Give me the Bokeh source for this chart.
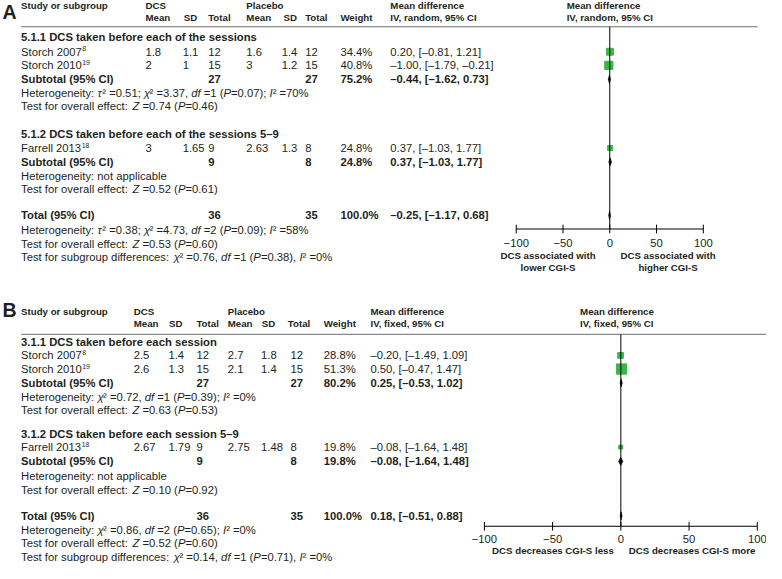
from bokeh.plotting import figure
from bokeh.models import Range1d, ColumnDataSource
from bokeh.core.properties import value
from bokeh.embed import file_html
from bokeh.resources import INLINE

# ------------------------------------------------------------------ data
studies = ["Storch 2007", "Storch 2010", "Farrell 2013"]
study_refs = ["8", "19", "18"]
study_group = [0, 0, 1]

# Panel A (random effects)
a_groups = ["5.1.1 DCS taken before each of the sessions",
            "5.1.2 DCS taken before each of the sessions 5\u20139"]
a_dcs_mean = [1.8, 2, 3]
a_dcs_sd = [1.1, 1, 1.65]
a_dcs_n = [12, 15, 9]
a_pla_mean = [1.6, 3, 2.63]
a_pla_sd = [1.4, 1.2, 1.3]
a_pla_n = [12, 15, 8]
a_weight = [34.4, 40.8, 24.8]
a_md = [0.20, -1.00, 0.37]
a_lo = [-0.81, -1.79, -1.03]
a_hi = [1.21, -0.21, 1.77]
a_sub_dcs_n = [27, 9]
a_sub_pla_n = [27, 8]
a_sub_weight = [75.2, 24.8]
a_sub_md = [-0.44, 0.37]
a_sub_lo = [-1.62, -1.03]
a_sub_hi = [0.73, 1.77]
a_tot = dict(dn=36, pn=35, w=100.0, md=-0.25, lo=-1.17, hi=0.68)
a_sub_het = ["Heterogeneity: *\u03c4*\u00b2 =0.51; *\u03c7*\u00b2 =3.37, *df* =1 (*P*=0.07); *I*\u00b2 =70%",
             "Heterogeneity: not applicable"]
a_sub_z = ["Test for overall effect: *Z* =0.74 (*P*=0.46)",
           "Test for overall effect: *Z* =0.52 (*P*=0.61)"]
a_tot_het = "Heterogeneity: *\u03c4*\u00b2 =0.38; *\u03c7*\u00b2 =4.73, *df* =2 (*P*=0.09); *I*\u00b2 =58%"
a_tot_z = "Test for overall effect: *Z* =0.53 (*P*=0.60)"
a_subgrp = "Test for subgroup differences: *\u03c7*\u00b2 =0.76, *df* =1 (*P*=0.38), *I*\u00b2 =0%"
a_ci_label = "IV, random, 95% CI"
a_axis_labels = [["DCS associated with", "lower CGI-S"], ["DCS associated with", "higher CGI-S"]]

# Panel B (fixed effects)
b_groups = ["3.1.1 DCS taken before each session",
            "3.1.2 DCS taken before each session 5\u20139"]
b_dcs_mean = [2.5, 2.6, 2.67]
b_dcs_sd = [1.4, 1.3, 1.79]
b_dcs_n = [12, 15, 9]
b_pla_mean = [2.7, 2.1, 2.75]
b_pla_sd = [1.8, 1.4, 1.48]
b_pla_n = [12, 15, 8]
b_weight = [28.8, 51.3, 19.8]
b_md = [-0.20, 0.50, -0.08]
b_lo = [-1.49, -0.47, -1.64]
b_hi = [1.09, 1.47, 1.48]
b_sub_dcs_n = [27, 9]
b_sub_pla_n = [27, 8]
b_sub_weight = [80.2, 19.8]
b_sub_md = [0.25, -0.08]
b_sub_lo = [-0.53, -1.64]
b_sub_hi = [1.02, 1.48]
b_tot = dict(dn=36, pn=35, w=100.0, md=0.18, lo=-0.51, hi=0.88)
b_sub_het = ["Heterogeneity: *\u03c7*\u00b2 =0.72, *df* =1 (*P*=0.39); *I*\u00b2 =0%",
             "Heterogeneity: not applicable"]
b_sub_z = ["Test for overall effect: *Z* =0.63 (*P*=0.53)",
           "Test for overall effect: *Z* =0.10 (*P*=0.92)"]
b_tot_het = "Heterogeneity: *\u03c7*\u00b2 =0.86, *df* =2 (*P*=0.65); *I*\u00b2 =0%"
b_tot_z = "Test for overall effect: *Z* =0.52 (*P*=0.60)"
b_subgrp = "Test for subgroup differences: *\u03c7*\u00b2 =0.14, *df* =1 (*P*=0.71), *I*\u00b2 =0%"
b_ci_label = "IV, fixed, 95% CI"
b_axis_labels = [["DCS decreases CGI-S less"], ["DCS decreases CGI-S more"]]

axis_ticks = [-100, -50, 0, 50, 100]
axis_tick_labels = ["\u2212100", "\u221250", "0", "50", "100"]

# ------------------------------------------------------------------ style / layout
W, H = 766, 563
XR = (0, 782)
YR = (579, 0)
K = W / (XR[1] - XR[0])
FONT = "Liberation Sans"
TXT = "#231f20"
GREEN = "#3ab54a"
BODY = 11.5
HEAD = 9.9
LETTER = 20

AW = {' ': 278, '\u00a0': 278, '(': 333, ')': 333, ',': 278, '-': 333, '.': 278, ':': 278,
      ';': 278, '=': 584, '%': 889, '[': 278, ']': 278, '\u2013': 556, '\u00b2': 333,
      '\u03c4': 430, '\u03c7': 500}
for c in '0123456789':
    AW[c] = 556
AW.update(dict(A=667, B=667, C=722, D=722, E=667, F=611, G=778, H=722, I=278, J=500, K=667,
               L=556, M=833, N=722, O=778, P=667, Q=778, R=722, S=667, T=611, U=722, V=667,
               W=944, X=667, Y=667, Z=611))
AW.update(dict(a=556, b=556, c=500, d=556, e=556, f=278, g=556, h=556, i=222, j=222, k=500,
               l=222, m=833, n=556, o=556, p=556, q=556, r=333, s=500, t=278, u=556, v=500,
               w=722, x=500, y=500, z=500))


def tw(s, size):
    return sum(AW.get(c, 556) for c in s) / 1000.0 * size


p = figure(width=W, height=H, x_range=Range1d(*XR), y_range=Range1d(*YR),
           output_backend="svg", toolbar_location=None, min_border=0,
           x_axis_type=None, y_axis_type=None)
p.grid.visible = False
p.outline_line_color = None
p.background_fill_color = "white"
p.border_fill_color = "white"

texts = {"left": dict(x=[], y=[], t=[], fs=[], st=[]),
         "center": dict(x=[], y=[], t=[], fs=[], st=[])}


def add(x, y, s, size, bold=False, italic=False, align="left"):
    d = texts[align]
    d["x"].append(x)
    d["y"].append(y)
    d["t"].append(s)
    d["fs"].append("%.2fpx" % (size * K))
    st = "bold" if bold else "normal"
    if italic:
        st = "bold italic" if bold else "italic"
    d["st"].append(st)


def rich(x, y, s, size):
    parts = s.split("*")
    for k, seg in enumerate(parts):
        if seg:
            # keep edge spaces (SVG would collapse them)
            shown = seg.replace(" ", "\u00a0")
            add(x, y, shown, size, italic=(k % 2 == 1))
        x += tw(seg, size)


def fmt(v):
    return str(v)


def fmd(v):
    return ("%.2f" % v).replace("-", "\u2013")


def fci(m, lo, hi):
    return "%s, [%s, %s]" % (fmd(m), fmd(lo), fmd(hi))


def panel(D, L, rname):
    add(L["letter"][0], L["letter"][1], L["name"], LETTER, bold=True)
    h1, h2 = L["hdr"]
    add(L["study"], h1, "Study or subgroup", HEAD, bold=True)
    add(L["h_dmean"], h1, "DCS", HEAD, bold=True)
    add(L["h_dmean"], h2, "Mean", HEAD, bold=True)
    add(L["h_dsd"], h2, "SD", HEAD, bold=True)
    add(L["h_dn"], h2, "Total", HEAD, bold=True)
    add(L["h_pmean"], h1, "Placebo", HEAD, bold=True)
    add(L["h_pmean"], h2, "Mean", HEAD, bold=True)
    add(L["h_psd"], h2, "SD", HEAD, bold=True)
    add(L["h_pn"], h2, "Total", HEAD, bold=True)
    add(L["w"], h2, "Weight", HEAD, bold=True)
    for xx in (L["ci"], L["fhead"]):
        add(xx, h1, "Mean difference", HEAD, bold=True)
        add(xx, h2, D["ci_label"], HEAD, bold=True)
    p.segment(x0=[L["line_x"][0]], x1=[L["line_x"][1]], y0=[L["line"]], y1=[L["line"]],
              line_color="#6d6e71", line_width=1)

    for g, gl in enumerate(D["groups"]):
        add(L["study"], L["group_y"][g], gl, BODY, bold=True)

    # studies
    for i, name in enumerate(studies):
        y = L["study_y"][i]
        add(L["study"], y, name, BODY)
        add(L["study"] + tw(name, BODY) + 0.5, y - 3, study_refs[i], BODY * 0.6)
        add(L["dmean"], y, fmt(D["dcs_mean"][i]), BODY)
        add(L["dsd"], y, fmt(D["dcs_sd"][i]), BODY)
        add(L["dn"], y, fmt(D["dcs_n"][i]), BODY)
        add(L["pmean"], y, fmt(D["pla_mean"][i]), BODY)
        add(L["psd"], y, fmt(D["pla_sd"][i]), BODY)
        add(L["pn"], y, fmt(D["pla_n"][i]), BODY)
        add(L["w"], y, "%.1f%%" % D["weight"][i], BODY)
        add(L["ci"], y, fci(D["md"][i], D["lo"][i], D["hi"][i]), BODY)

    ys = L["study_y"]
    p.segment(x0=D["lo"], x1=D["hi"], y0=ys, y1=ys, line_color="black", line_width=1,
              x_range_name=rname)
    p.scatter(x=D["md"], y=ys, size=[w * 0.2 for w in D["weight"]], marker="square",
              fill_color=GREEN, line_color=GREEN, x_range_name=rname)

    # subtotals
    dx, dy = [], []
    hd = 4.2
    for g in range(2):
        y = L["sub_y"][g]
        add(L["study"], y, "Subtotal (95% CI)", BODY, bold=True)
        add(L["dn"], y, fmt(D["sub_dcs_n"][g]), BODY, bold=True)
        add(L["pn"], y, fmt(D["sub_pla_n"][g]), BODY, bold=True)
        add(L["w"], y, "%.1f%%" % D["sub_weight"][g], BODY, bold=True)
        add(L["ci"], y, fci(D["sub_md"][g], D["sub_lo"][g], D["sub_hi"][g]), BODY, bold=True)
        rich(L["study"], L["het_y"][g], D["sub_het"][g], BODY)
        rich(L["study"], L["test_y"][g], D["sub_z"][g], BODY)
        dx.append([D["sub_lo"][g], D["sub_md"][g], D["sub_hi"][g], D["sub_md"][g]])
        dy.append([y, y - hd, y, y + hd])

    T = D["tot"]
    y = L["total_y"]
    add(L["study"], y, "Total (95% CI)", BODY, bold=True)
    add(L["dn"], y, fmt(T["dn"]), BODY, bold=True)
    add(L["pn"], y, fmt(T["pn"]), BODY, bold=True)
    add(L["w"], y, "%.1f%%" % T["w"], BODY, bold=True)
    add(L["ci"], y, fci(T["md"], T["lo"], T["hi"]), BODY, bold=True)
    dx.append([T["lo"], T["md"], T["hi"], T["md"]])
    dy.append([y, y - hd, y, y + hd])
    rich(L["study"], L["t_het"], D["tot_het"], BODY)
    rich(L["study"], L["t_test"], D["tot_z"], BODY)
    rich(L["study"], L["t_sub"], D["subgrp"], BODY)
    p.patches(xs=dx, ys=dy, fill_color="black", line_color="black", line_width=0.6,
              x_range_name=rname)

    # forest axis
    ay = L["axis_y"]
    p.segment(x0=[0], x1=[0], y0=[L["line"]], y1=[ay], line_color="black", line_width=1,
              x_range_name=rname)
    p.segment(x0=[axis_ticks[0]], x1=[axis_ticks[-1]], y0=[ay], y1=[ay],
              line_color="black", line_width=1, x_range_name=rname)
    p.segment(x0=axis_ticks, x1=axis_ticks, y0=[ay - 4.5] * len(axis_ticks),
              y1=[ay + 4.5] * len(axis_ticks), line_color="black", line_width=1,
              x_range_name=rname)
    p.text(x=axis_ticks, y=[L["tick_y"]] * len(axis_ticks), text=axis_tick_labels,
           text_font=value(FONT), text_font_size="%.2fpx" % (BODY * K), text_color=TXT,
           text_align="center", text_baseline="middle", x_range_name=rname)
    for k, lines in enumerate(D["axis_labels"]):
        for j, s in enumerate(lines):
            add(L["lab_x"][k], L["lab_y"][j], s, HEAD, bold=True, align="center")


A_DATA = dict(groups=a_groups, dcs_mean=a_dcs_mean, dcs_sd=a_dcs_sd, dcs_n=a_dcs_n,
              pla_mean=a_pla_mean, pla_sd=a_pla_sd, pla_n=a_pla_n, weight=a_weight,
              md=a_md, lo=a_lo, hi=a_hi, sub_dcs_n=a_sub_dcs_n, sub_pla_n=a_sub_pla_n,
              sub_weight=a_sub_weight, sub_md=a_sub_md, sub_lo=a_sub_lo, sub_hi=a_sub_hi,
              tot=a_tot, sub_het=a_sub_het, sub_z=a_sub_z, tot_het=a_tot_het,
              tot_z=a_tot_z, subgrp=a_subgrp, ci_label=a_ci_label, axis_labels=a_axis_labels)
B_DATA = dict(groups=b_groups, dcs_mean=b_dcs_mean, dcs_sd=b_dcs_sd, dcs_n=b_dcs_n,
              pla_mean=b_pla_mean, pla_sd=b_pla_sd, pla_n=b_pla_n, weight=b_weight,
              md=b_md, lo=b_lo, hi=b_hi, sub_dcs_n=b_sub_dcs_n, sub_pla_n=b_sub_pla_n,
              sub_weight=b_sub_weight, sub_md=b_sub_md, sub_lo=b_sub_lo, sub_hi=b_sub_hi,
              tot=b_tot, sub_het=b_sub_het, sub_z=b_sub_z, tot_het=b_tot_het,
              tot_z=b_tot_z, subgrp=b_subgrp, ci_label=b_ci_label, axis_labels=b_axis_labels)

A_L = dict(name="A", letter=(2, 11.5), hdr=(5.5, 17.5), line=27, line_x=(21, 773), study=21,
           h_dmean=148, h_dsd=187, h_dn=212, h_pmean=251, h_psd=289, h_pn=311,
           dmean=148, dsd=186, dn=212, pmean=251, psd=287, pn=311, w=347, ci=398, fhead=578,
           group_y=[38, 137], study_y=[52.7, 66.7, 151.7], sub_y=[81, 166],
           het_y=[95, 180.7], test_y=[109, 194], total_y=221, t_het=235.7, t_test=250,
           t_sub=264.3, zero=622, scale=0.955, axis_y=235, tick_y=249.3,
           lab_y=[262.7, 275], lab_x=[559, 681.5])
B_L = dict(name="B", letter=(2, 318), hdr=(320, 331.7), line=343.3, line_x=(21, 782), study=21,
           h_dmean=136, h_dsd=172, h_dn=200, h_pmean=232, h_psd=266.7, h_pn=293.3,
           dmean=136, dsd=171.5, dn=200, pmean=232, psd=266, pn=296, w=330, ci=377.7,
           fhead=591.7,
           group_y=[351.5, 445.7], study_y=[365, 379, 459.3], sub_y=[393.3, 474],
           het_y=[407.5, 489], test_y=[421.5, 503.3], total_y=530, t_het=544.3, t_test=558.3,
           t_sub=572.5, zero=633.3, scale=1.393, axis_y=540.7, tick_y=554,
           lab_y=[566], lab_x=[564, 706])

for nm, L in (("fa", A_L), ("fb", B_L)):
    p.extra_x_ranges[nm] = Range1d((XR[0] - L["zero"]) / L["scale"],
                                   (XR[1] - L["zero"]) / L["scale"])

panel(A_DATA, A_L, "fa")
panel(B_DATA, B_L, "fb")

for align, d in texts.items():
    src = ColumnDataSource(dict(x=d["x"], y=d["y"], t=d["t"], fs=d["fs"], st=d["st"]))
    p.text(x="x", y="y", text="t", source=src, text_font=value(FONT), text_font_size="fs",
           text_font_style="st", text_color=TXT, text_align=align, text_baseline="middle")

open("out.html", "w").write(file_html(p, INLINE))
